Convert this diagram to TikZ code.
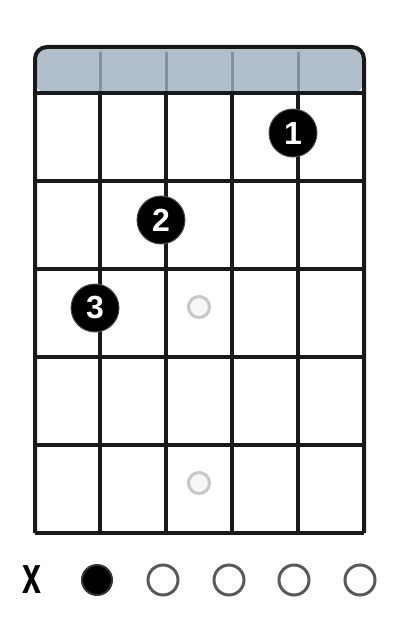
\documentclass[tikz,border=0pt]{standalone}
\usepackage{fontspec}
\setmainfont{Liberation Sans}
\definecolor{headfill}{RGB}{176,191,202}
\definecolor{headline}{RGB}{130,145,158}
\begin{document}
\begin{tikzpicture}[x=1pt,y=-1pt,
  gridline/.style={line width=4pt,black!90},
  finger/.style={circle,fill=black,draw=black!70,line width=1pt,minimum size=48pt,inner sep=0pt,text=white,font=\fontsize{32}{32}\selectfont\bfseries},
  ghost/.style={circle,draw=black!22,fill=black!3,line width=3pt,minimum size=21pt,inner sep=0pt},
  openmark/.style={circle,draw=black!65,line width=3pt,minimum size=30pt,inner sep=0pt},
  mutedmark/.style={circle,fill=black,draw=black!80,line width=2pt,minimum size=30pt,inner sep=0pt}]
\useasboundingbox (0,0) rectangle (399,623);
% header bar
\fill[rounded corners=12pt,fill=headfill] (35,93) -- (35,47) -- (364,47) -- (364,93) -- cycle;
\foreach \x in {100,166,232,298} \draw[line width=3pt,headline] (\x,52) -- (\x,93);
\draw[gridline,rounded corners=12pt] (35,533) -- (35,47) -- (364,47) -- (364,533);
% frets
\foreach \y in {93,181,269,357,445,533} \draw[gridline] (35,\y) -- (364,\y);
% strings
\foreach \x in {100,166,232,298} \draw[gridline] (\x,93) -- (\x,533);
% ghost notes
\node[ghost] (g1) at (199,307) {};
\node[ghost] (g2) at (199,483) {};
% fingers
\node[finger] (f1) at (293,133) {1};
\node[finger] (f2) at (161,220) {2};
\node[finger] (f3) at (95,308) {3};
% bottom marks
\node[font=\fontsize{34}{34}\selectfont\bfseries,xscale=1.0,yscale=1.55] (m1) at (32,580) {x};
\node[mutedmark] (m2) at (97,580) {};
\node[openmark] (m3) at (163,580) {};
\node[openmark] (m4) at (229,580) {};
\node[openmark] (m5) at (294,580) {};
\node[openmark] (m6) at (360,580) {};
\end{tikzpicture}
\end{document}
